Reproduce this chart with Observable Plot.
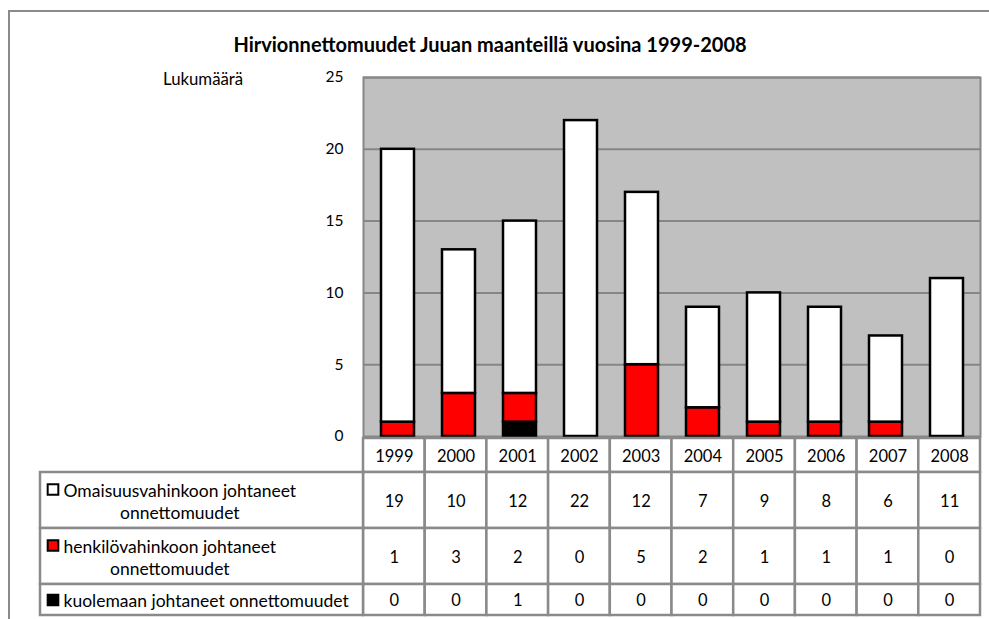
<!DOCTYPE html>
<html><head><meta charset="utf-8">
<script src="https://cdn.jsdelivr.net/npm/d3@7"></script>
<script src="https://cdn.jsdelivr.net/npm/@observablehq/plot@0.6"></script>
<style>
html,body{margin:0;padding:0;background:#fff;overflow:hidden;width:989px;height:619px;}
#wrap{position:relative;width:989px;height:619px;overflow:hidden;font-family:Lato,sans-serif;color:#000;}
#frameTop{position:absolute;left:8px;top:10px;width:981px;height:2px;background:#8a8a8a;}
#frameLeft{position:absolute;left:8px;top:10px;width:2px;height:609px;background:#8a8a8a;}
#title{position:absolute;left:140px;width:700px;top:31px;text-align:center;font-weight:bold;font-size:20px;line-height:26px;white-space:nowrap;}
#ylab{position:absolute;left:163px;top:68px;font-size:16.8px;line-height:22px;white-space:nowrap;}
#chart{position:absolute;left:0;top:0;width:989px;}
#table{position:absolute;left:0;top:430px;width:989px;}
svg{max-width:none !important;display:block;}
</style></head>
<body>
<div id="wrap">
  <div id="frameTop"></div>
  <div id="frameLeft"></div>
  <div id="chart"></div>
  <div id="table"></div>
  <div id="title"></div>
  <div id="ylab"></div>
</div>
<script>
// ---- data ----
const titleText = "Hirvionnettomuudet Juuan maanteillä vuosina 1999-2008";
const yLabel = "Lukumäärä";
const years = ["1999","2000","2001","2002","2003","2004","2005","2006","2007","2008"];
const omaisuus = [19,10,12,22,12,7,9,8,6,11];
const henkilo  = [1,3,2,0,5,2,1,1,1,0];
const kuolema  = [0,0,1,0,0,0,0,0,0,0];
const seriesNames = [
  "Omaisuusvahinkoon johtaneet\nonnettomuudet",
  "henkilövahinkoon johtaneet\nonnettomuudet",
  "kuolemaan johtaneet onnettomuudet"
];
const seriesColors = ["#ffffff", "#ff0000", "#000000"];
const yTicks = [0,5,10,15,20,25];

// ---- layout ----
const FONT = "Lato, sans-serif";
const plotLeft = 363, plotRight = 980, plotTop = 77, plotBottom = 436;
const rowHeights = [34, 56, 56, 31];
const labelLeft = 40;
const tableTopOffset = 8; // within table svg (svg top = 430)

document.getElementById("title").textContent = titleText;
document.getElementById("ylab").textContent = yLabel;

const seriesValues = [omaisuus, henkilo, kuolema];
const stackOrder = [2, 1, 0]; // bottom -> top
const barRows = [];
years.forEach((yr, i) => {
  stackOrder.forEach(s => barRows.push({year: yr, series: seriesNames[s], value: seriesValues[s][i]}));
});

const chartH = 452;
const chart = Plot.plot({
  width: 989, height: chartH,
  marginLeft: plotLeft, marginRight: 989 - plotRight, marginTop: plotTop, marginBottom: chartH - plotBottom,
  style: {fontFamily: FONT, fontSize: "15px", color: "#000", background: "transparent"},
  x: {type: "band", domain: years, paddingInner: 0.465, paddingOuter: 0.2325, axis: null},
  y: {domain: [0, 25], label: null},
  color: {domain: seriesNames, range: seriesColors},
  marks: [
    Plot.frame({fill: "#c0c0c0", stroke: "#868686", strokeWidth: 2}),
    Plot.gridY(yTicks.filter(d => d > 0), {stroke: "#868686", strokeOpacity: 1, strokeWidth: 2}),
    Plot.axisY(yTicks, {tickSize: 0, tickPadding: 20, fontSize: 15.5, label: null}),
    Plot.barY(barRows.filter(d => d.value > 0), {
      x: "year", y: "value", fill: "series", stroke: "#000", strokeWidth: 2.5,
      order: stackOrder.map(s => seriesNames[s])
    })
  ]
});
document.getElementById("chart").appendChild(chart);

// ---- table ----
const colW = (plotRight - plotLeft) / years.length;
const labelSpan = (plotLeft - labelLeft) / colW;
const edges = [0];
rowHeights.forEach(h => edges.push(edges[edges.length - 1] + h));
const cells = [];
years.forEach((yr, i) => cells.push({x1: i, x2: i + 1, y1: edges[0], y2: edges[1], text: yr}));
seriesValues.forEach((vals, r) => {
  vals.forEach((v, i) => cells.push({x1: i, x2: i + 1, y1: edges[r + 1], y2: edges[r + 2], text: String(v)}));
});
const labelCells = seriesNames.map((name, r) => ({
  x1: -labelSpan, x2: 0, y1: edges[r + 1], y2: edges[r + 2], name, color: seriesColors[r],
  lines: name.split("\n")
}));

const ctx = document.createElement("canvas").getContext("2d");
const labelFont = 17.5;
ctx.font = `${labelFont}px Lato`;
const textStart = 23; // px from label column left
const lineH = 22;
labelCells.forEach(d => {
  const w = ctx.measureText(d.lines[0]).width;
  d.xm = d.x1 + (textStart + w / 2) / colW;
  d.ym = (d.y1 + d.y2) / 2;
  d.firstLine = d.ym - (d.lines.length - 1) * lineH / 2;
});

const tableH = 189;
const table = Plot.plot({
  width: 989, height: tableH,
  marginLeft: labelLeft, marginRight: 989 - plotRight, marginTop: tableTopOffset,
  marginBottom: tableH - tableTopOffset - edges[edges.length - 1],
  style: {fontFamily: FONT, color: "#000", background: "transparent"},
  x: {type: "linear", domain: [-labelSpan, years.length], axis: null},
  y: {type: "linear", domain: [0, edges[edges.length - 1]], reverse: true, axis: null},
  marks: [
    Plot.rect(cells, {x1: "x1", x2: "x2", y1: "y1", y2: "y2", fill: "#fff", stroke: "#8a8a8a", strokeWidth: 2.5}),
    Plot.rect(labelCells, {x1: "x1", x2: "x2", y1: "y1", y2: "y2", fill: "#fff", stroke: "#8a8a8a", strokeWidth: 2.5}),
    Plot.text(cells, {x: d => (d.x1 + d.x2) / 2, y: d => (d.y1 + d.y2) / 2 + 1, text: "text", fontSize: 16.5, fill: "#000"}),
    Plot.dot(labelCells, {x: "x1", y: d => d.firstLine, dx: 12.5, symbol: "square", r: 6, fill: "color", stroke: "#000", strokeWidth: 2}),
    Plot.text(labelCells, {x: "xm", y: "ym", text: d => d.name, fontSize: labelFont, lineHeight: lineH / labelFont, textAnchor: "middle", fill: "#000"})
  ]
});
document.getElementById("table").appendChild(table);
</script>
</body></html>
